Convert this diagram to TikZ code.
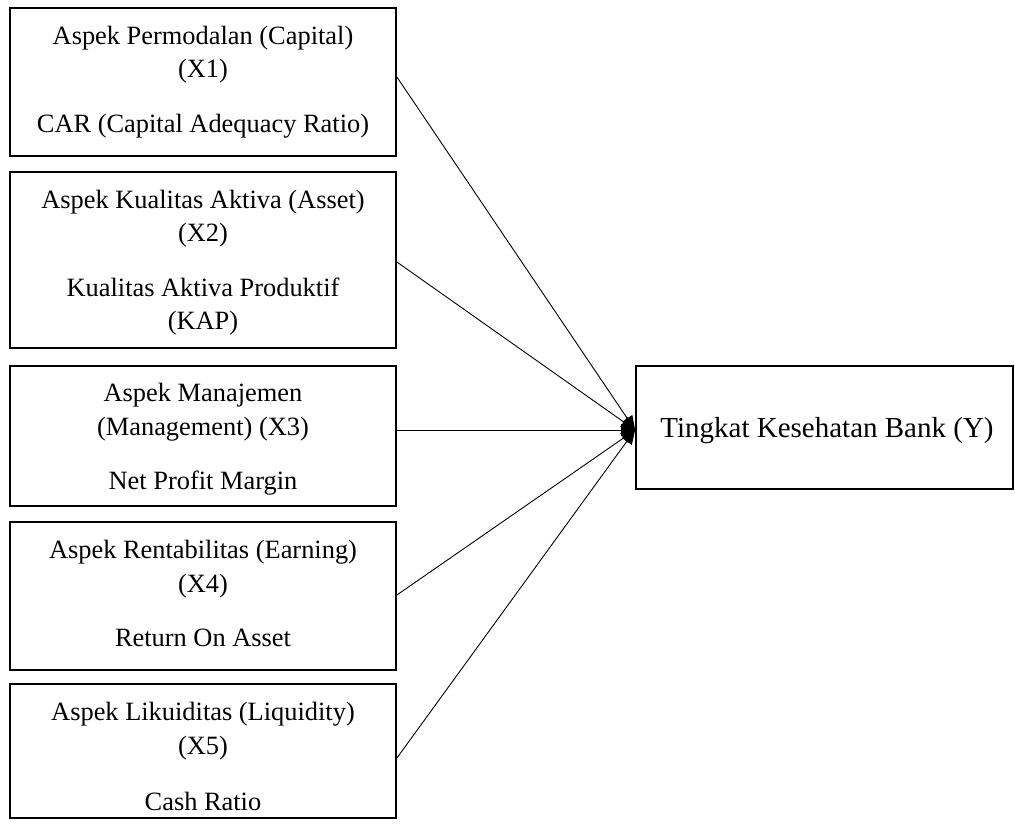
\documentclass[tikz,border=0pt]{standalone}
\usepackage{fontspec}
\setmainfont{Liberation Serif}
\usetikzlibrary{arrows.meta}
\begin{document}
\begin{tikzpicture}[x=1pt,y=-1pt,
  box/.style={draw=black,line width=1.8pt,minimum width=386pt,inner sep=0pt},
  txt/.style={anchor=north,align=center,inner sep=0pt,font=\fontsize{26.4}{33.5}\selectfont},
  conn/.style={line width=0.9pt,-{Triangle[length=14pt,width=12pt]}}]
\useasboundingbox (0,0) rectangle (1015,828);
\node[box,minimum height=148pt] (b1) at (203,82) {};
\node[box,minimum height=176pt] (b2) at (203,260) {};
\node[box,minimum height=140pt] (b3) at (203,436) {};
\node[box,minimum height=148pt] (b4) at (203,596) {};
\node[box,minimum height=134pt] (b5) at (203,751) {};
\node[box,minimum width=377pt,minimum height=123pt] (y) at (824.5,427.5) {};
\node[txt] (t1) at (203,25.5) {Aspek Permodalan (Capital)\\(X1)\\[21pt]CAR (Capital Adequacy Ratio)};
\node[txt] (t2) at (203,189.5) {Aspek Kualitas Aktiva (Asset)\\(X2)\\[21pt]Kualitas Aktiva Produktif\\(KAP)};
\node[txt] (t3) at (203,383) {Aspek Manajemen\\(Management) (X3)\\[21pt]Net Profit Margin};
\node[txt] (t4) at (203,540) {Aspek Rentabilitas (Earning)\\(X4)\\[21pt]Return On Asset};
\node[txt] (t5) at (203,702) {Aspek Likuiditas (Liquidity)\\(X5)\\[23pt]Cash Ratio};
\node[anchor=base,inner sep=0pt,font=\fontsize{29}{34}\selectfont] (ty) at (827,437) {Tingkat Kesehatan Bank (Y)};
\coordinate (tip) at ([yshift=-2.5pt]y.west);
\draw[conn] ([yshift=5pt]b1.east) -- (tip);
\draw[conn] ([yshift=-2pt]b2.east) -- (tip);
\draw[conn] ([yshift=6pt]b3.east) -- (tip);
\draw[conn] ([yshift=1pt]b4.east) -- (tip);
\draw[conn] ([yshift=-7pt]b5.east) -- (tip);
\end{tikzpicture}
\end{document}
